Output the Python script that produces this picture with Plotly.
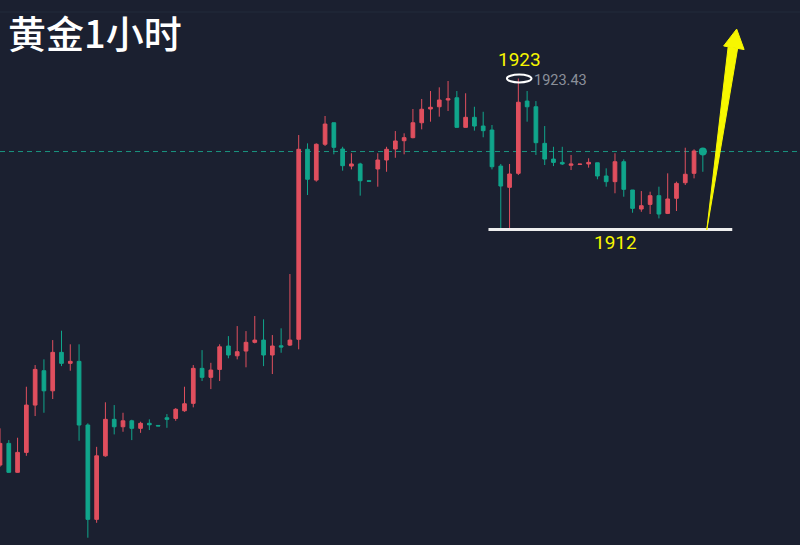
import plotly.graph_objects as go

# Gold 1-hour candles (price values)
idx = list(range(81))
opens = [1894.17, 1895.81, 1893.62, 1895.13, 1898.71, 1901.31, 1899.79, 1902.70, 1901.87, 1902.02,
         1897.20, 1890.06, 1894.87, 1897.63, 1897.07, 1897.52, 1896.95, 1897.33, 1897.17, 1897.75,
         1897.70, 1898.28, 1898.84, 1901.49, 1900.81, 1901.41, 1903.18, 1902.44, 1902.80, 1903.46,
         1903.63, 1902.50, 1903.20, 1903.25, 1903.69, 1918.07, 1915.74, 1918.45, 1920.08, 1918.09,
         1916.80, 1916.96, 1915.69, 1916.58, 1917.26, 1918.09, 1918.72, 1918.95, 1920.08, 1921.12,
         1921.29, 1921.80, 1921.97, 1919.73, 1920.49, 1919.83, 1919.53, 1916.80, 1915.19, 1916.25,
         1921.72, 1921.29, 1918.52, 1917.33, 1917.08, 1916.86, 1916.92, 1916.96, 1917.05, 1916.05,
         1915.62, 1917.13, 1914.99, 1913.55, 1913.90, 1914.56, 1913.22, 1914.36, 1915.54, 1916.25,
         1917.94]
highs = [1896.95, 1896.06, 1896.24, 1900.10, 1901.74, 1902.17, 1903.63, 1904.34, 1903.31, 1903.31,
         1897.33, 1895.55, 1898.92, 1898.71, 1898.13, 1897.60, 1897.45, 1897.63, 1897.17, 1898.03,
         1898.48, 1900.10, 1901.74, 1902.87, 1901.91, 1903.31, 1903.93, 1904.69, 1904.31, 1905.45,
         1905.20, 1904.01, 1904.52, 1908.63, 1919.15, 1918.52, 1918.52, 1920.59, 1920.08, 1918.26,
         1917.77, 1917.05, 1915.69, 1917.77, 1918.26, 1919.45, 1919.28, 1921.12, 1921.88, 1922.48,
         1922.76, 1923.24, 1922.48, 1922.31, 1921.29, 1920.91, 1919.91, 1916.96, 1916.96, 1923.43,
         1922.48, 1921.72, 1919.83, 1918.26, 1918.26, 1917.64, 1916.95, 1917.39, 1917.05, 1916.63,
         1917.77, 1917.31, 1914.99, 1914.91, 1914.86, 1915.24, 1916.25, 1915.62, 1918.19, 1918.07,
         1917.94]
lows = [1894.04, 1893.59, 1893.59, 1894.87, 1897.88, 1898.13, 1899.17, 1901.66, 1901.31, 1896.01,
        1888.67, 1889.80, 1894.80, 1896.49, 1896.69, 1896.06, 1896.61, 1896.82, 1897.13, 1896.99,
        1897.52, 1898.20, 1898.54, 1900.53, 1899.92, 1900.53, 1902.25, 1902.17, 1901.57, 1903.38,
        1901.66, 1901.06, 1902.67, 1903.18, 1902.93, 1914.61, 1915.62, 1918.32, 1917.69, 1916.45,
        1916.55, 1914.56, 1915.65, 1915.24, 1916.37, 1917.43, 1917.69, 1918.90, 1919.58, 1920.16,
        1920.54, 1920.97, 1919.73, 1919.73, 1919.48, 1918.98, 1916.55, 1912.00, 1912.00, 1916.12,
        1920.16, 1917.64, 1916.88, 1916.80, 1916.88, 1916.50, 1916.92, 1916.68, 1915.80, 1915.24,
        1914.74, 1914.48, 1913.27, 1913.34, 1913.17, 1912.84, 1913.17, 1913.40, 1915.37, 1915.87,
        1916.37]
closes = [1895.81, 1893.62, 1895.13, 1898.71, 1901.41, 1899.79, 1902.70, 1901.87, 1902.02, 1897.20,
          1890.06, 1894.87, 1897.63, 1897.07, 1897.52, 1896.95, 1897.33, 1897.22, 1897.13, 1897.63,
          1898.39, 1898.81, 1901.49, 1900.81, 1901.36, 1903.12, 1902.50, 1902.75, 1903.46, 1903.63,
          1902.50, 1903.18, 1903.10, 1903.63, 1918.07, 1915.80, 1918.45, 1919.98, 1918.22, 1916.83,
          1916.96, 1915.69, 1915.65, 1917.26, 1918.07, 1918.70, 1918.95, 1920.08, 1921.10, 1921.25,
          1921.80, 1921.90, 1919.73, 1920.49, 1919.83, 1919.48, 1916.75, 1915.29, 1916.20, 1921.63,
          1921.29, 1918.57, 1917.33, 1917.08, 1916.96, 1916.96, 1916.95, 1917.08, 1916.05, 1915.62,
          1917.13, 1915.04, 1913.60, 1913.80, 1914.56, 1913.17, 1914.31, 1915.49, 1916.18, 1917.94,
          1917.90]

title_text = "黄金1小时"
high_label = "1923"
high_value = 1923.43
support_label = "1912"
support_value = 1912.00

BG = "#1b2030"
RED = "#e04f5e"
GREEN = "#10a58b"
YELLOW = "#f7f700"

fig = go.Figure()
fig.add_trace(go.Candlestick(
    x=idx, open=opens, high=highs, low=lows, close=closes,
    increasing=dict(line=dict(color=RED, width=1), fillcolor=RED),
    decreasing=dict(line=dict(color=GREEN, width=1), fillcolor=GREEN),
    whiskerwidth=0, hoverinfo="skip", showlegend=False,
))
# last price dot
fig.add_trace(go.Scatter(x=[idx[-1]], y=[closes[-1]], mode="markers",
                         marker=dict(color=GREEN, size=8), hoverinfo="skip", showlegend=False))

shapes = []
# last price dashed line
shapes.append(dict(type="line", xref="paper", x0=0, x1=1, yref="y", y0=closes[-1], y1=closes[-1],
                   line=dict(color="#1a9481", width=1, dash="5px,4px"), layer="below"))
# faint top border line
shapes.append(dict(type="line", xref="paper", x0=0, x1=1, yref="paper", y0=1 - 12 / 545, y1=1 - 12 / 545,
                   line=dict(color="#232b3a", width=1), layer="below"))
# support line at 1912
shapes.append(dict(type="line", xref="x", x0=55.6, x1=83.35, yref="y", y0=support_value, y1=support_value,
                   line=dict(color="#eeeeee", width=3)))
# ellipse at high
shapes.append(dict(type="circle", xref="x", x0=57.7, x1=60.5, yref="y",
                   y0=high_value - 0.30, y1=high_value + 0.30, line=dict(color="#ffffff", width=2)))
# yellow arrow (shaft wedge + head)
shaft = "M 80.45,1911.96 L 82.88,1925.81 L 83.96,1925.70 Z"
head = "M 83.85,1927.17 L 82.37,1925.89 L 84.70,1925.62 Z"
shapes.append(dict(type="path", xref="x", yref="y", path=shaft, fillcolor=YELLOW, line=dict(color=YELLOW, width=1)))
shapes.append(dict(type="path", xref="x", yref="y", path=head, fillcolor=YELLOW, line=dict(color=YELLOW, width=1)))

annotations = [
    dict(xref="paper", yref="paper", x=6 / 800, y=1 - 31 / 545, xanchor="left", yanchor="middle",
         text=title_text, showarrow=False,
         font=dict(family="Noto Sans CJK SC", size=38, color="#ffffff", weight=500)),
    dict(xref="x", yref="y", x=59.1, y=high_value + 1.4, xanchor="center", yanchor="middle",
         text=high_label, showarrow=False,
         font=dict(family="Roboto, Arial", size=19, color=YELLOW)),
    dict(xref="x", yref="y", x=60.6, y=high_value - 0.15, xanchor="left", yanchor="middle",
         text=f"{high_value:.2f}", showarrow=False,
         font=dict(family="Roboto, Arial", size=14.5, color="#8b909a")),
    dict(xref="x", yref="y", x=70.05, y=support_value - 0.95, xanchor="center", yanchor="middle",
         text=support_label, showarrow=False,
         font=dict(family="Roboto, Arial", size=19, color=YELLOW)),
]

fig.update_layout(
    width=800, height=545,
    margin=dict(l=0, r=0, t=0, b=0),
    paper_bgcolor=BG, plot_bgcolor=BG,
    boxgap=0.40,
    shapes=shapes, annotations=annotations,
    xaxis=dict(range=[0.0, 91.06], visible=False, rangeslider=dict(visible=False), fixedrange=True),
    yaxis=dict(range=[1888.12, 1929.37], visible=False, fixedrange=True),
    showlegend=False,
)
fig.write_html("out.html", config={"displayModeBar": False},
               post_script="document.body.style.margin='0';document.body.style.background='#1b2030';")
